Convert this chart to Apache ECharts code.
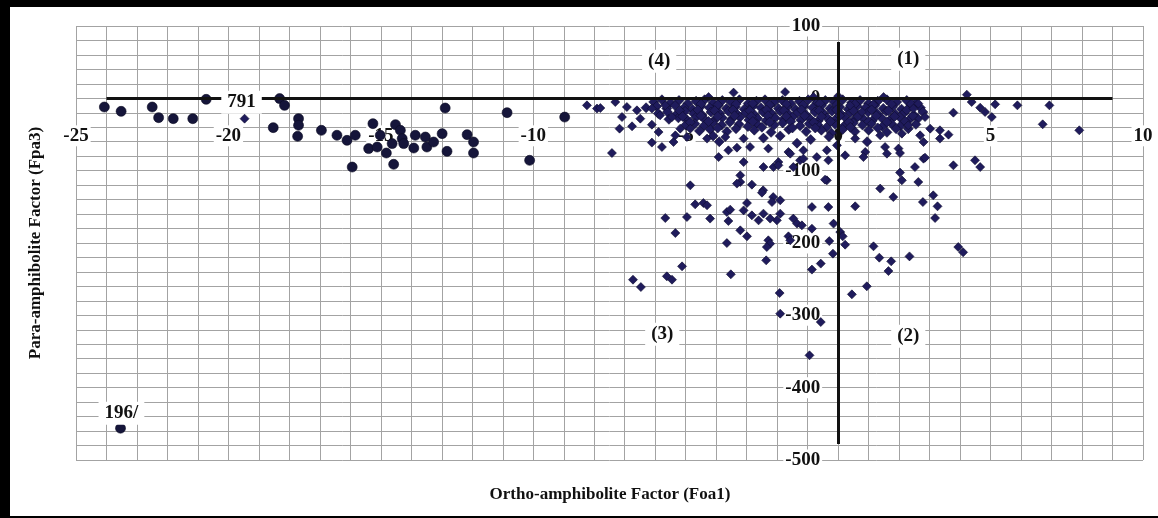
<!DOCTYPE html>
<html>
<head>
<meta charset="utf-8">
<script src="https://cdn.jsdelivr.net/npm/echarts@6/dist/echarts.min.js"></script>
<style>
html,body{margin:0;padding:0;background:#fff;}
#wrap{position:relative;width:1158px;height:518px;overflow:hidden;background:#fff;}
#chart{position:absolute;left:0;top:0;width:1158px;height:518px;}
.bl{position:absolute;background:#000;}
</style>
</head>
<body>
<div id="wrap">
<div id="chart"></div>
<div class="bl" style="left:0;top:0;width:10px;height:518px;"></div>
<div class="bl" style="left:0;top:0;width:1158px;height:7px;"></div>
<div class="bl" style="left:0;top:516px;width:1158px;height:2px;"></div>
</div>
<script>
// ---------- data ----------
const xTitle = 'Ortho-amphibolite Factor (Foa1)';
const yTitle = 'Para-amphibolite Factor (Fpa3)';

// circle markers (left group)
const circlePoints = [
  [-24.07,-12.0],[-23.52,-18.0],[-22.50,-12.0],[-22.29,-26.7],[-21.81,-28.1],[-21.17,-28.1],
  [-20.73,-1.4],[-18.32,-0.4],[-18.16,-9.7],[-18.53,-40.5],[-17.70,-28.1],[-17.70,-37.3],
  [-17.73,-52.5],[-16.95,-44.2],[-16.44,-51.1],[-16.11,-58.1],[-15.94,-95.0],[-15.84,-51.1],
  [-15.40,-69.5],[-15.26,-35.0],[-15.12,-67.3],[-15.02,-51.1],[-14.82,-75.6],[-14.58,-91.2],
  [-14.52,-36.4],[-14.36,-44.2],[-14.63,-62.6],[-14.30,-55.7],[-14.25,-62.6],[-13.87,-51.1],
  [-13.92,-68.7],[-13.54,-53.5],[-13.49,-67.3],[-13.27,-60.4],[-12.99,-48.8],[-12.83,-73.3],
  [-12.89,-13.4],[-12.17,-50.2],[-11.96,-60.4],[-11.96,-75.6],[-10.86,-19.8],[-10.12,-85.7],
  [-8.97,-25.9],[-23.54,-456]
];

// diamond markers: scattered, individually read
const diamondScatter = [
  [-19.47,-28.1],[-8.24,-9.7],[-7.91,-14.2],
  [-7.80,-13.4],[-7.31,-5.1],[-7.09,-25.9],[-7.17,-41.9],[-7.42,-75.6],[-6.76,-38.7],
  [-6.93,-12.0],[-6.60,-16.6],[-6.49,-28.1],[-6.11,-14.2],[-6.11,-36.4],[-5.89,-46.6],
  [-6.11,-61.2],[-5.78,-67.3],[-5.84,-23.5],[-5.67,-9.7],[-5.40,-60.4],[-5.34,-51.2],
  [-5.18,-41.9],[-5.45,-25.9],[-4.96,-53.5],[-4.85,-41.9],[-4.25,1.8],[-4.30,-55.7],
  [-3.92,-81.2],[-3.43,7.9],[-1.74,8.7],[-0.81,1.8],[0.0,3.0],[-3.60,-71.9],[-3.32,-68.2],
  [-3.10,-55.7],[-2.89,-67.3],[-3.10,-88.1],[-2.45,-95.0],[-1.96,-88.1],[-1.63,-74.2],
  [-2.29,-69.5],[-3.70,-53.5],[-1.14,-71.9],[-1.25,-85.7],[-0.70,-81.2],[-0.37,-71.9],
  [-0.32,-85.7],[-0.04,-65.0],[-1.47,-95.0],
  [1.49,1.8],[4.22,5.1],[4.38,-5.1],[3.78,-19.8],[2.63,-7.3],[3.62,-50.2],[3.34,-44.2],
  [3.34,-55.7],[3.02,-41.9],[2.85,-25.9],[2.47,-14.2],[2.30,-37.3],[2.09,-48.8],[2.69,-51.2],
  [2.80,-60.4],[1.38,-51.2],[1.54,-67.3],[1.98,-69.5],[1.60,-76.5],[0.89,-74.2],[0.83,-81.2],
  [0.56,-55.7],[0.23,-78.8],[2.80,-83.4],[2.52,-95.0],[2.03,-102.7],[3.78,-92.6],[4.49,-85.7],
  [1.10,-35.0],[0.78,-18.9],[0.39,-9.7],
  [5.15,-8.3],[4.66,-12.9],[4.82,-18.9],[5.04,-25.9],[5.88,-9.7],[6.93,-9.7],[6.71,-35.9],
  [7.91,-44.2],[4.66,-95.0],[2.09,-113.4],[2.63,-115.7],[1.38,-124.8],[3.12,-134.1],
  [1.81,-136.5],[-0.37,-113.4],[-2.46,-127.2],[-2.13,-136.5],
  [-2.12,-95.0],[-1.57,-76.5],[-1.14,-83.4],[2.03,-75.6],[2.85,-82.0],
  [-3.21,-106.5],[-3.21,-115.7],[-3.32,-117.9],[-2.83,-119.3],[-1.96,-92.6],[-4.85,-120.3],
  [-0.43,-112.4],[2.78,-143.4],[3.26,-149.3],[3.18,-165.5],[3.94,-205.6],[4.10,-212.9],
  [-2.50,-130.4],[-2.17,-143.4],[-1.90,-141.0],[-1.90,-159.4],[-2.01,-168.7],[-2.99,-144.8],
  [-3.10,-154.9],[-2.83,-161.8],[-2.61,-168.7],[-2.45,-159.4],[-2.23,-166.3],[-3.65,-157.2],
  [-3.60,-169.6],[-3.54,-153.9],[-4.42,-144.8],[-4.30,-147.9],[-4.69,-146.6],[-4.96,-164.1],
  [-4.20,-166.3],[-5.67,-165.5],[-5.34,-186.2],[-3.21,-182.5],[-2.99,-190.8],[-3.65,-200.1],
  [-2.29,-196.3],[-2.23,-200.9],[-2.34,-205.6],[-1.47,-166.3],[-1.35,-173.2],[-1.19,-175.6],
  [-0.86,-180.2],[-0.86,-150.3],[-0.32,-150.3],[-0.15,-173.2],[0.07,-184.9],[0.15,-190.8],
  [-0.29,-197.3],[-0.17,-214.7],[0.23,-202.3],[-1.63,-190.8],[-1.57,-196.3],[-2.36,-224.0],
  [-3.52,-243.3],[-5.12,-232.3],[-5.62,-246.1],[-5.45,-250.7],[-6.73,-250.7],[-6.47,-260.9],
  [-1.92,-269.2],[-0.86,-236.8],[-0.57,-228.5],[-1.90,-297.7],[-0.57,-309.3],[-0.94,-355.3],
  [0.45,-271.0],[0.94,-259.9],[1.16,-204.6],[1.35,-220.3],[1.74,-225.4],[1.65,-238.8],
  [2.34,-218.5],[0.56,-149.3]
];

// diamond markers: dense core near the origin (estimated)
const diamondCore = [
  [-6.05,-5],[-5.78,-2],[-5.5,-6],[-5.22,-3],[-4.93,-7],[-4.66,-4],[-4.38,-2],[-4.1,-6],[-3.8,-3],[-3.52,-5],
  [-3.24,-2],[-2.95,-7],[-2.68,-4],[-2.4,-2],[-2.1,-5],[-1.83,-3],[-1.55,-7],[-1.27,-4],[-0.98,-2],[-0.7,-6],
  [-0.42,-3],[-0.13,-5],[0.15,-2],[0.44,-6],[0.72,-3],[1.0,-7],[1.3,-4],[1.6,-2],[1.92,-5],[2.25,-3],[2.55,-6],
  [-6.3,-13],[-5.95,-11],[-5.62,-14],[-5.35,-10],[-5.05,-13],[-4.78,-15],[-4.5,-11],[-4.22,-13],[-3.93,-10],
  [-3.66,-14],[-3.37,-12],[-3.08,-15],[-2.8,-11],[-2.53,-13],[-2.24,-10],[-1.96,-14],[-1.68,-12],[-1.4,-15],
  [-1.12,-11],[-0.84,-13],[-0.55,-10],[-0.27,-14],[0.05,-12],[0.33,-15],[0.62,-11],[0.9,-13],[1.2,-10],
  [1.48,-14],[1.78,-12],[2.08,-15],[2.38,-11],[2.7,-13],
  [-5.9,-21],[-5.6,-19],[-5.3,-22],[-5.02,-18],[-4.74,-21],[-4.46,-23],[-4.17,-19],[-3.88,-21],[-3.6,-18],
  [-3.31,-22],[-3.03,-20],[-2.74,-23],[-2.46,-19],[-2.18,-21],[-1.9,-18],[-1.62,-22],[-1.33,-20],[-1.05,-23],
  [-0.76,-19],[-0.48,-21],[-0.2,-18],[0.1,-22],[0.4,-20],[0.7,-23],[0.98,-19],[1.28,-21],[1.58,-18],
  [1.88,-22],[2.17,-20],[2.48,-23],[2.78,-19],
  [-5.55,-29],[-5.24,-27],[-4.95,-30],[-4.66,-26],[-4.38,-29],[-4.08,-31],[-3.8,-27],[-3.5,-29],[-3.22,-26],
  [-2.93,-30],[-2.64,-28],[-2.36,-31],[-2.07,-27],[-1.79,-29],[-1.5,-26],[-1.22,-30],[-0.93,-28],[-0.65,-31],
  [-0.36,-27],[-0.08,-29],[0.22,-26],[0.52,-30],[0.82,-28],[1.12,-31],[1.42,-27],[1.72,-29],[2.02,-26],
  [2.32,-30],[2.62,-28],
  [-5.0,-37],[-4.7,-35],[-4.4,-38],[-4.12,-34],[-3.82,-37],[-3.25,-36],[-2.96,-39],[-2.68,-35],[-2.1,-37],
  [-1.82,-34],[-1.25,-38],[-0.95,-35],[-0.66,-37],[-0.38,-40],[-0.1,-36],[0.2,-38],[0.5,-34],[0.8,-37],
  [1.45,-39],[1.75,-35],[2.05,-38],[2.55,-36],
  [-4.55,-45],[-4.2,-43],[-3.65,-46],[-3.35,-42],[-2.75,-44],[-2.2,-47],[-1.62,-43],[-1.05,-46],[-0.55,-44],
  [-0.22,-48],[0.15,-43],[0.55,-46],[1.0,-44],[1.6,-47],[1.9,-42],
  [-4.1,-52],[-2.45,-55],[-1.9,-52],[-0.9,-57],[-0.3,-53],[0.95,-60],[-3.9,-60],[-1.35,-62]
];

// diamond markers: extra overlap inside the darkest part of the core (estimated)
const diamondFill = [
  [-4.5,-8],[-3.95,-9],[-3.35,-8],[-2.8,-7],[-2.25,-9],[-1.7,-8],[-1.15,-9],[-0.6,-7],[-0.05,-9],[0.55,-8],
  [1.15,-9],[1.75,-8],[2.4,-8],
  [-5.2,-17],[-4.6,-16],[-4.05,-17],[-3.45,-16],[-2.9,-17],[-2.35,-16],[-1.78,-17],[-1.2,-16],[-0.62,-17],
  [-0.05,-16],[0.5,-17],[1.1,-16],[1.65,-17],[2.25,-16],
  [-5.1,-25],[-4.5,-24],[-3.95,-25],[-3.4,-24],[-2.85,-25],[-2.3,-24],[-1.7,-25],[-1.1,-24],[-0.55,-25],
  [0.05,-24],[0.65,-25],[1.25,-24],[1.85,-25],[2.45,-24],
  [-4.85,-33],[-4.25,-32],[-3.55,-33],[-2.8,-32],[-2.25,-33],[-1.55,-32],[-0.8,-33],[-0.25,-32],[0.35,-33],
  [1.0,-32],[1.6,-33],[2.2,-32],
  [-3.95,-41],[-2.5,-40],[-1.5,-41],[-0.75,-41],[0.4,-40],[1.3,-41],[2.3,-42]
];

// axis cross lines (data extents as drawn in the figure)
const hAxisLine = [[-24, 0], [9, 0]];
const vAxisLine = [[0, 78], [0, -478]];

// text annotations
const noteText = ['(4)', '(1)', '(3)', '(2)', '791', '196/'];
const noteX = [-5.87, 2.30, -5.77, 2.30, -19.57, -23.51];
const noteY = [51.2, 53.9, -326, -329, -5.5, -435.5];

// ---------- chart ----------
const serif = '"Liberation Serif", "Times New Roman", serif';
const gridColor = '#a3a3a3';
const G = {left: 76, right: 15, top: 26, bottom: 58};
const W = 1158, H = 518;
const plotW = W - G.left - G.right, plotH = H - G.top - G.bottom;
const xMin = -25, xMax = 10, yMin = -500, yMax = 100;
// place axes through the origin (layout offsets)
const xAxisOffset = -plotH * (0 - yMin) / (yMax - yMin);
const yAxisOffset = -plotW * (0 - xMin) / (xMax - xMin);

const chart = echarts.init(document.getElementById('chart'), null, {renderer: 'canvas'});

const labelStyle = {
  fontFamily: serif, fontWeight: 'bold', fontSize: 19, color: '#111',
  backgroundColor: '#fff', padding: [1, 2]
};
const diamondStyle = {color: '#1f1b5c', borderColor: '#0d0b2e', borderWidth: 0.6, opacity: 1};

chart.setOption({
  animation: false,
  backgroundColor: '#fff',
  grid: {left: G.left, right: G.right, top: G.top, bottom: G.bottom, containLabel: false},
  xAxis: {
    type: 'value', min: xMin, max: xMax, interval: 5,
    position: 'bottom', offset: xAxisOffset,
    axisLine: {show: false, onZero: false},
    axisTick: {show: false},
    minorTick: {show: false, splitNumber: 5},
    splitLine: {show: true, lineStyle: {color: gridColor, width: 1}},
    minorSplitLine: {show: true, lineStyle: {color: gridColor, width: 1}},
    axisLabel: Object.assign({margin: 27, hideOverlap: false}, labelStyle)
  },
  yAxis: {
    type: 'value', min: yMin, max: yMax, interval: 100,
    position: 'left', offset: yAxisOffset,
    axisLine: {show: false, onZero: false},
    axisTick: {show: false},
    minorTick: {show: false, splitNumber: 5},
    splitLine: {show: true, lineStyle: {color: gridColor, width: 1}},
    minorSplitLine: {show: true, lineStyle: {color: gridColor, width: 1}},
    axisLabel: Object.assign({margin: 16, hideOverlap: false}, labelStyle)
  },
  graphic: [
    {type: 'text', x: 610, y: 495, z: 100,
      style: {text: xTitle, font: 'bold 17px ' + serif, fill: '#111', textAlign: 'center', textVerticalAlign: 'middle'}},
    {type: 'text', x: 36, y: 243, rotation: Math.PI / 2, z: 100,
      style: {text: yTitle, font: 'bold 17px ' + serif, fill: '#111', textAlign: 'center', textVerticalAlign: 'middle'}}
  ],
  series: [
    {
      type: 'scatter', name: 'circles', symbol: 'circle', symbolSize: 10, z: 3,
      itemStyle: {color: '#15153a', borderColor: '#0b0b22', borderWidth: 0.6, opacity: 1},
      data: circlePoints
    },
    {
      type: 'scatter', name: 'diamondsCore', symbol: 'diamond', symbolSize: 10, z: 3,
      itemStyle: diamondStyle, data: diamondCore
    },
    {
      type: 'scatter', name: 'diamondsFill', symbol: 'diamond', symbolSize: 10, z: 3,
      itemStyle: diamondStyle, data: diamondFill
    },
    {
      type: 'scatter', name: 'diamonds', symbol: 'diamond', symbolSize: 9, z: 3,
      itemStyle: diamondStyle, data: diamondScatter
    },
    {
      type: 'scatter', name: 'axes', data: [], z: 5, silent: true,
      markLine: {
        silent: true, symbol: 'none', animation: false,
        label: {show: false},
        lineStyle: {color: '#111', width: 3, type: 'solid', opacity: 1},
        data: [
          [{coord: hAxisLine[0]}, {coord: hAxisLine[1]}],
          [{coord: vAxisLine[0]}, {coord: vAxisLine[1]}]
        ]
      }
    },
    {
      type: 'scatter', name: 'notes', z: 6, silent: true,
      symbolSize: 1, itemStyle: {color: '#fff', opacity: 1},
      data: noteText.map((t, i) => ({value: [noteX[i], noteY[i]], name: t})),
      label: {
        show: true, position: 'inside', formatter: p => p.name,
        fontFamily: serif, fontWeight: 'bold', fontSize: 19, color: '#111', opacity: 1,
        backgroundColor: '#fff', padding: [2, 6]
      }
    }
  ]
});
</script>
</body>
</html>
